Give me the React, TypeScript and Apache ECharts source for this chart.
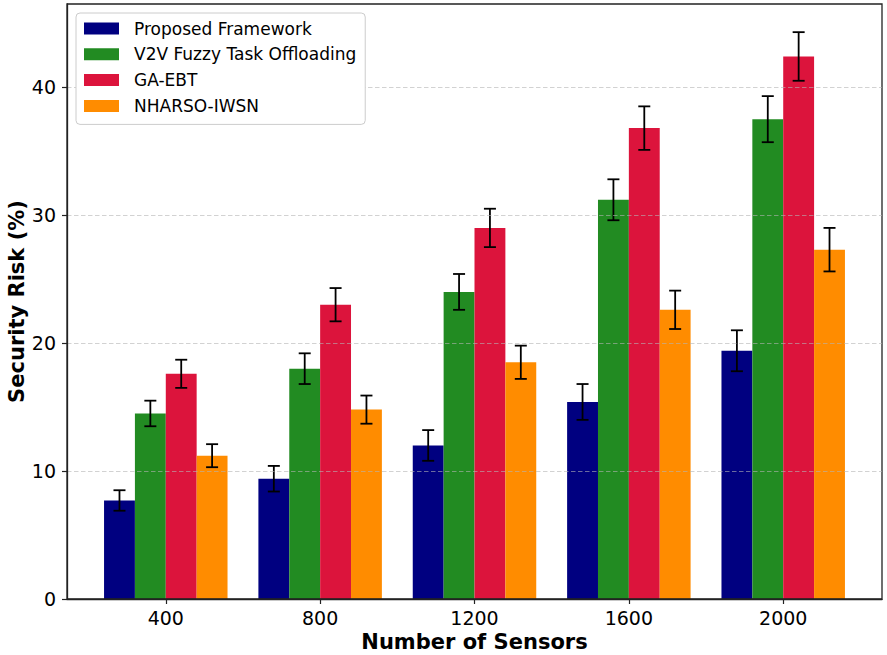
import React, { useEffect, useRef } from "react";
import * as echarts from "echarts";

const categories = ["400", "800", "1200", "1600", "2000"];
const seriesNames = ["Proposed Framework", "V2V Fuzzy Task Offloading", "GA-EBT", "NHARSO-IWSN"];
const proposed = [7.7, 9.4, 12.0, 15.4, 19.4];
const proposedErr = [0.8, 1.0, 1.2, 1.4, 1.6];
const v2v = [14.5, 18.0, 24.0, 31.2, 37.5];
const v2vErr = [1.0, 1.2, 1.4, 1.6, 1.8];
const gaebt = [17.6, 23.0, 29.0, 36.8, 42.4];
const gaebtErr = [1.1, 1.3, 1.5, 1.7, 1.9];
const nharso = [11.2, 14.8, 18.5, 22.6, 27.3];
const nharsoErr = [0.9, 1.1, 1.3, 1.5, 1.7];
const yTicks = [0, 10, 20, 30, 40];

const colors = ["#000080", "#228B22", "#DC143C", "#FF8C00"];
const FONT = "DejaVu Sans";

export default function App() {
  const ref = useRef<HTMLDivElement>(null);
  useEffect(() => {
    if (!ref.current) return;
    const chart = echarts.init(ref.current, undefined, { renderer: "svg" });
    const values = [proposed, v2v, gaebt, nharso];
    const errs = [proposedErr, v2vErr, gaebtErr, nharsoErr];
    const barW = 0.2;

    const series = seriesNames.map((name, si) => ({
      type: "custom",
      name,
      itemStyle: { color: colors[si] },
      encode: { x: 0, y: 1 },
      data: categories.map((_, ci) => [ci, values[si][ci], errs[si][ci]]),
      renderItem: (params: any, api: any) => {
        const xc = api.value(0) + (si - 1.5) * barW;
        const y = api.value(1);
        const e = api.value(2);
        const p0 = api.coord([xc - barW / 2, y]);
        const p1 = api.coord([xc + barW / 2, 0]);
        const top = api.coord([xc, y + e]);
        const bot = api.coord([xc, y - e]);
        const cap = 6;
        const ls = { stroke: "#000", lineWidth: 1.8 };
        return {
          type: "group",
          children: [
            {
              type: "rect",
              shape: { x: p0[0], y: p0[1], width: p1[0] - p0[0], height: p1[1] - p0[1] },
              style: { fill: colors[si] },
            },
            { type: "line", z2: 10, shape: { x1: top[0], y1: top[1], x2: bot[0], y2: bot[1] }, style: ls },
            { type: "line", z2: 10, shape: { x1: top[0] - cap, y1: top[1], x2: top[0] + cap, y2: top[1] }, style: ls },
            { type: "line", z2: 10, shape: { x1: bot[0] - cap, y1: bot[1], x2: bot[0] + cap, y2: bot[1] }, style: ls },
          ],
        };
      },
    }));

    chart.setOption({
      animation: false,
      backgroundColor: "#fff",
      grid: {
        left: 67,
        right: 5,
        top: 4,
        bottom: 56,
        show: true,
        borderColor: "#222",
        borderWidth: 1.3,
        z: 6,
        containLabel: false,
        outerBoundsMode: "none",
      },
      legend: {
        orient: "vertical",
        left: 76,
        top: 13,
        z: 20,
        data: seriesNames.map((n) => ({ name: n, icon: "rect" })),
        itemWidth: 35,
        itemHeight: 12,
        itemGap: 8.8,
        padding: [7, 9, 10, 8],
        backgroundColor: "#fff",
        borderColor: "#cccccc",
        borderWidth: 1,
        borderRadius: 4,
        textStyle: { fontFamily: FONT, fontSize: 17, color: "#000", lineHeight: 17, padding: [0, 0, 0, 10] },
      },
      xAxis: {
        type: "value",
        min: -0.64,
        max: 4.64,
        z: 6,
        axisLine: { show: true, onZero: false, lineStyle: { color: "#222", width: 1.3 } },
        axisTick: { show: true, customValues: [0, 1, 2, 3, 4], length: 5, lineStyle: { color: "#222", width: 1.2 } },
        axisLabel: {
          customValues: [0, 1, 2, 3, 4],
          formatter: (v: number) => categories[Math.round(v)],
          fontFamily: FONT,
          fontSize: 19,
          lineHeight: 19,
          color: "#000",
          margin: 9,
        },
        splitLine: { show: false },
        name: "Number of Sensors",
        nameLocation: "middle",
        nameGap: 32,
        nameMoveOverlap: false,
        nameTextStyle: { fontFamily: FONT, fontSize: 21, lineHeight: 21, fontWeight: "bold", color: "#000" },
      },
      yAxis: {
        type: "value",
        min: 0,
        max: 46.5,
        interval: 10,
        z: 6,
        axisLine: { show: true, onZero: false, lineStyle: { color: "#222", width: 1.3 } },
        axisTick: { show: true, customValues: yTicks, length: 5, lineStyle: { color: "#222", width: 1.2 } },
        axisLabel: {
          customValues: yTicks,
          fontFamily: FONT,
          fontSize: 19,
          color: "#000",
          margin: 11,
        },
        splitLine: {
          show: true,
          lineStyle: { color: "rgba(180,180,180,0.6)", width: 1, type: [4.5, 2.5] },
        },
        name: "Security Risk (%)",
        nameLocation: "middle",
        nameGap: 40,
        nameMoveOverlap: false,
        nameTextStyle: { fontFamily: FONT, fontSize: 21, lineHeight: 21, fontWeight: "bold", color: "#000" },
      },
      series,
    });
    return () => chart.dispose();
  }, []);
  return (
    <div
      ref={ref}
      style={{ position: "absolute", left: 0, top: 0, width: 887, height: 655 }}
    />
  );
}
